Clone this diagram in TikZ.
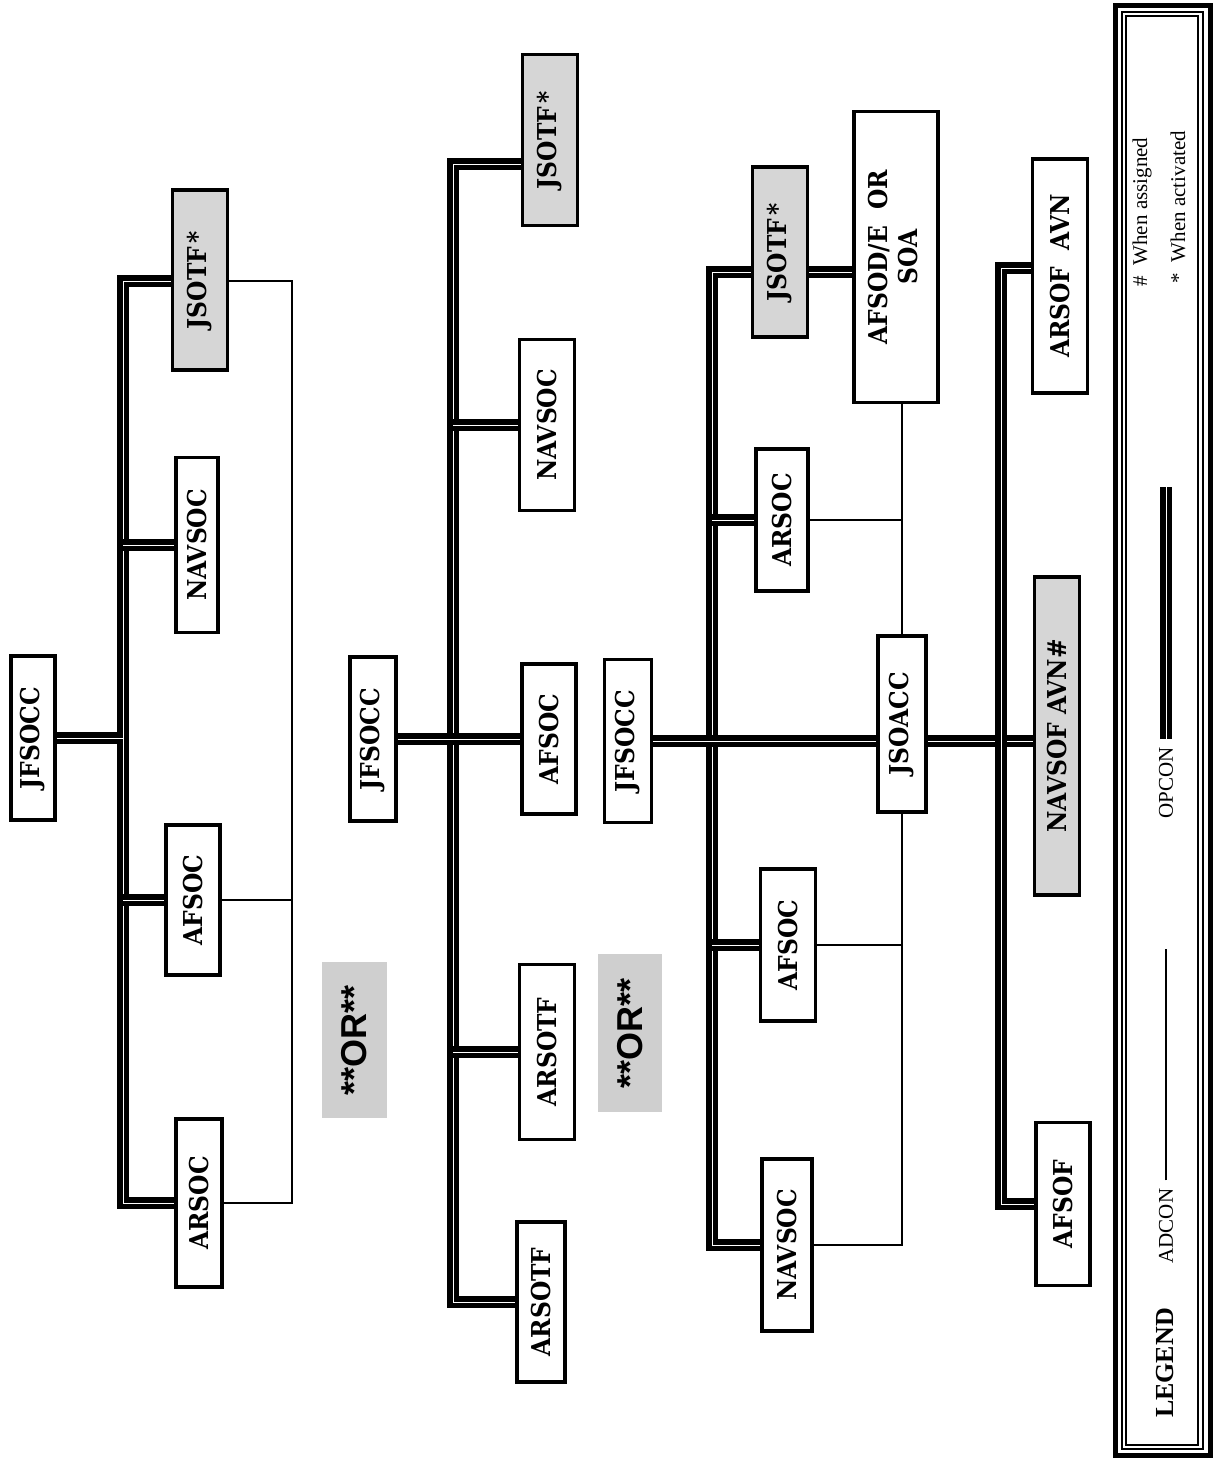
\documentclass[tikz,border=0pt]{standalone}
\usepackage{fontspec}
\usepackage{graphicx}
\setmainfont{Liberation Serif}
\newfontfamily\boxfont{DejaVu Serif}
\newfontfamily\orfont{Liberation Sans}
\newcommand{\vtext}[1]{\rotatebox{90}{\scalebox{0.9}[1]{#1}}}
\begin{document}
\begin{tikzpicture}[x=0.5pt,y=-0.5pt,
  unit/.style={draw,line width=1.8pt,fill=white,inner sep=0pt,
    font=\boxfont\bfseries\fontsize{13}{15}\selectfont},
  shade/.style={unit,fill=gray!32},
  opcon/.style={double,double distance=0.4pt,line width=2.6pt},
  adcon/.style={line width=1.4pt},
  ortag/.style={fill=gray!38,inner sep=0pt,font=\orfont\bfseries\fontsize{18}{20}\selectfont},
  key/.style={inner sep=4pt,font=\fontsize{10.5}{12}\selectfont}]
\useasboundingbox (0,0) rectangle (1216,1461);

\node[unit,minimum width=22pt,minimum height=82pt] (jfsoccA) at (33,738) {\vtext{JFSOCC}};
\node[shade,minimum width=27.5pt,minimum height=90pt] (jsotfA) at (200,280) {\vtext{JSOTF\,*}};
\node[unit,minimum width=21pt,minimum height=87.5pt] (navsocA) at (197,545) {\vtext{NAVSOC}};
\node[unit,minimum width=27pt,minimum height=75pt] (afsocA) at (193,900) {\vtext{AFSOC}};
\node[unit,minimum width=23pt,minimum height=84pt] (arsocA) at (199,1203) {\vtext{ARSOC}};
\node[ortag,minimum width=32.5pt,minimum height=78pt] (orA) at (354,1040) {\rotatebox{90}{**OR**}};
\coordinate (sAt) at (123,281);
\coordinate (rAt) at (292,281);
\draw[opcon] (jsotfA.west |- sAt) -- (sAt) -- (sAt |- arsocA.west) -- (arsocA.west);
\draw[opcon] (jfsoccA.east) -- (jfsoccA.east -| sAt);
\foreach \n in {navsocA,afsocA}
  \draw[opcon] (\n.west) -- (\n.west -| sAt);
\draw[adcon] (jsotfA.east |- rAt) -- (rAt) -- (rAt |- arsocA.east) -- (arsocA.east);
\draw[adcon] (afsocA.east) -- (afsocA.east -| rAt);

\node[unit,minimum width=23pt,minimum height=82pt] (jfsoccB) at (373,739) {\vtext{JFSOCC}};
\node[shade,minimum width=27.5pt,minimum height=85.5pt] (jsotfB) at (550,140) {\vtext{JSOTF\,*}};
\node[unit,minimum width=27.5pt,minimum height=85.5pt] (navsocB) at (547,425) {\vtext{NAVSOC}};
\node[unit,minimum width=27pt,minimum height=75pt] (afsocB) at (549,739) {\vtext{AFSOC}};
\node[unit,minimum width=27.5pt,minimum height=87.5pt] (arsotfB) at (547,1052) {\vtext{ARSOTF}};
\node[unit,minimum width=24pt,minimum height=80pt] (arsotfBB) at (541,1302) {\vtext{ARSOTF}};
\node[ortag,minimum width=32pt,minimum height=79pt] (orB) at (630,1033) {\rotatebox{90}{**OR**}};
\coordinate (sBt) at (453,164);
\draw[opcon] (jsotfB.west |- sBt) -- (sBt) -- (sBt |- arsotfBB.west) -- (arsotfBB.west);
\draw[opcon] (jfsoccB.east) -- (afsocB.west);
\foreach \n in {navsocB,arsotfB}
  \draw[opcon] (\n.west) -- (\n.west -| sBt);

\node[unit,minimum width=23.5pt,minimum height=81.5pt] (jfsoccC) at (628,741) {\vtext{JFSOCC}};
\node[shade,minimum width=27.5pt,minimum height=85pt] (jsotfC) at (780,252) {\vtext{JSOTF\,*}};
\node[unit,minimum width=42pt,minimum height=145.5pt] (afsod) at (896,257)
  {\vtext{\begin{tabular}{@{}c@{}}AFSOD/E\ \ OR\\SOA\end{tabular}}};
\node[unit,minimum width=26pt,minimum height=71pt] (arsocC) at (782,520) {\vtext{ARSOC}};
\node[unit,minimum width=24pt,minimum height=88pt] (jsoacc) at (902,724) {\vtext{JSOACC}};
\node[unit,minimum width=27.5pt,minimum height=76pt] (afsocC) at (788,945) {\vtext{AFSOC}};
\node[unit,minimum width=25pt,minimum height=86pt] (navsocC) at (787,1245) {\vtext{NAVSOC}};
\node[unit,minimum width=27.5pt,minimum height=117pt] (arsofavn) at (1060,276) {\vtext{ARSOF\ \ AVN}};
\node[shade,minimum width=22.5pt,minimum height=159pt] (navsofavn) at (1057,736) {\vtext{NAVSOF AVN\#}};
\node[unit,minimum width=27pt,minimum height=81.5pt] (afsof) at (1063,1204) {\vtext{AFSOF}};
\coordinate (sCt) at (712,272);
\coordinate (sDt) at (1001,268);
\draw[opcon] (jsotfC.west |- sCt) -- (sCt) -- (sCt |- navsocC.west) -- (navsocC.west);
\foreach \n in {arsocC,afsocC}
  \draw[opcon] (\n.west) -- (\n.west -| sCt);
\draw[opcon] (jfsoccC.east) -- (jfsoccC.east -| jsoacc.west);
\draw[opcon] (jsotfC.east |- sCt) -- (afsod.west |- sCt);
\draw[opcon] (jsoacc.east |- jfsoccC.east) -- (navsofavn.west |- jfsoccC.east);
\draw[opcon] (arsofavn.west |- sDt) -- (sDt) -- (sDt |- afsof.west) -- (afsof.west);
\draw[adcon] (afsod.south -| jsoacc.north) -- (jsoacc.north);
\draw[adcon] (arsocC.east) -- (arsocC.east -| jsoacc.north);
\draw[adcon] (afsocC.east) -- (afsocC.east -| jsoacc.south);
\draw[adcon] (jsoacc.south) -- (jsoacc.south |- navsocC.east) -- (navsocC.east);

\draw[line width=2.5pt] (1115,5.5) rectangle (1210,1455);
\draw[line width=1pt] (1122,12) rectangle (1203,1449);
\draw[line width=1pt] (1126,16) rectangle (1198,1445);
\node[key,font=\bfseries\fontsize{13}{15}\selectfont] (legend) at (1165,1363) {\rotatebox{90}{LEGEND}};
\node[key] (adconkey) at (1166,1226) {\rotatebox{90}{ADCON}};
\coordinate (adconend) at (1166,949);
\draw[adcon] (adconkey.north) -- (adconend);
\node[key] (opconkey) at (1166,783) {\rotatebox{90}{OPCON}};
\coordinate (opconend) at (1166,487);
\draw[opcon] (opconkey.north) -- (opconend);
\node[key,inner sep=0pt] (assigned) at (1142,212) {\rotatebox{90}{\#\ \ When assigned}};
\node[key,inner sep=0pt] (activated) at (1178,207) {\rotatebox{90}{*\ \ When activated}};
\end{tikzpicture}
\end{document}
